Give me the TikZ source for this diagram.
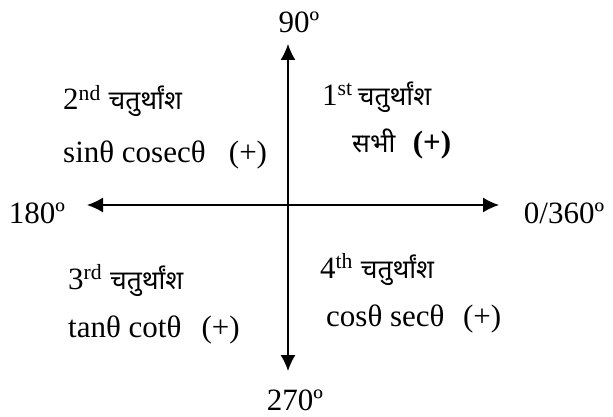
\documentclass[tikz,border=0pt]{standalone}
\usepackage{fontspec}
\setmainfont{Liberation Serif}
\newfontfamily\devfont[Script=Devanagari, Scale=0.85]{Noto Sans}
\usepackage{tikz}
\usetikzlibrary{arrows.meta}

\newcommand{\quadname}{{\devfont चतुर्थांश}}

\begin{document}
\begin{tikzpicture}[x=1pt, y=1pt, >={Latex[length=16pt,width=15pt]},
  font=\fontsize{31}{37}\selectfont,
  axislbl/.style={anchor=base, inner sep=0pt},
  quadlbl/.style={anchor=base west, inner sep=0pt}]

% 1. Canvas
\useasboundingbox (0,0) rectangle (613,416);

% 2. Axes
\coordinate (top) at (288,372);
\coordinate (bot) at (288,45);
\coordinate (lft) at (87,211);
\coordinate (rgt) at (499,211);
\draw[<->, line width=1.4pt] (lft) -- (rgt);
\draw[<->, line width=1.4pt] (top) -- (bot);

% 3. Angle labels
\node[axislbl] (a90) at (299,383) {90º};
\node[axislbl] (a270) at (295,6) {270º};
\node[axislbl] (a180) at (37,193) {180º};
\node[axislbl] (a360) at (564,193) {0/360º};

% 4. Quadrant labels
\node[quadlbl] (q2) at (63,306) {2\textsuperscript{nd} \quadname};
\node[quadlbl] (q2f) at (63,254) {sinθ cosecθ\hspace{0.75em}(+)};
\node[quadlbl] (q1) at (322,311) {1\textsuperscript{st}\,\quadname};
\node[quadlbl] (q1f) at (352,264) {{\devfont सभी}\hspace{0.55em}\textbf{(+)}};
\node[quadlbl] (q3) at (68,127) {3\textsuperscript{rd} \quadname};
\node[quadlbl] (q3f) at (68,79) {tanθ cotθ\hspace{0.65em}(+)};
\node[quadlbl] (q4) at (320,138) {4\textsuperscript{th} \quadname};
\node[quadlbl] (q4f) at (326,90) {cosθ secθ\hspace{0.6em}(+)};

\end{tikzpicture}
\end{document}
